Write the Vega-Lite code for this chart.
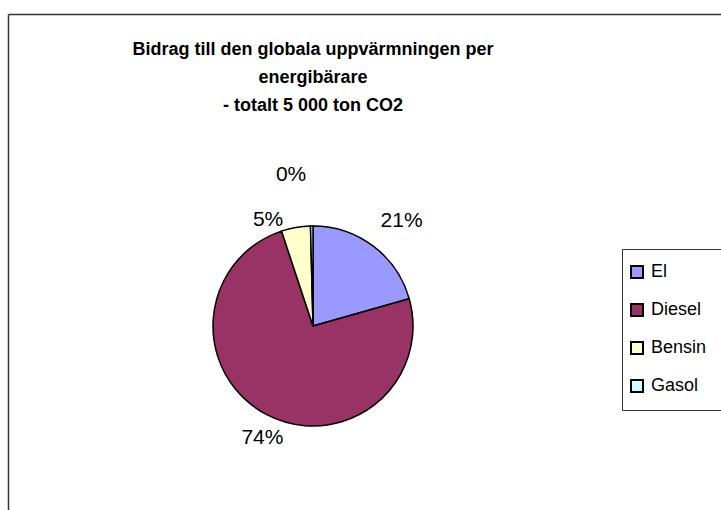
{
  "$schema": "https://vega.github.io/schema/vega-lite/v6.json",
  "width": 610,
  "height": 624,
  "autosize": {"type": "none"},
  "padding": {"left": 8, "top": 14, "right": 110, "bottom": 0},
  "background": "white",
  "config": {
    "view": {"stroke": null},
    "font": "Liberation Sans"
  },
  "title": {
    "text": [
      "Bidrag till den globala uppvärmningen per",
      "energibärare",
      "- totalt 5 000 ton CO2"
    ],
    "font": "Liberation Sans",
    "fontSize": 18,
    "fontWeight": "bold",
    "color": "black",
    "lineHeight": 28,
    "anchor": "middle",
    "frame": "group",
    "offset": -101
  },
  "data": {
    "values": [
      {"Energibärare": "El", "andel": 0.206, "nr": 1},
      {"Energibärare": "Diesel", "andel": 0.743, "nr": 2},
      {"Energibärare": "Bensin", "andel": 0.047, "nr": 3},
      {"Energibärare": "Gasol", "andel": 0.004, "nr": 4}
    ]
  },
  "layer": [
    {
      "mark": {"type": "rule", "opacity": 0},
      "encoding": {
        "x": {
          "datum": 0,
          "type": "quantitative",
          "scale": {"domain": [0, 1], "range": [0, 720]},
          "axis": {"orient": "top", "ticks": false, "labels": false, "grid": false, "title": null, "domainColor": "#333333", "domainWidth": 1.5}
        },
        "y": {
          "datum": 0,
          "type": "quantitative",
          "scale": {"domain": [0, 1]},
          "axis": {"orient": "left", "ticks": false, "labels": false, "grid": false, "title": null, "domainColor": "#333333", "domainWidth": 1.5}
        }
      }
    },
    {
      "mark": {"type": "arc", "outerRadius": 100, "stroke": "black", "strokeWidth": 1.5},
      "encoding": {
        "theta": {"field": "andel", "type": "quantitative", "stack": true},
        "order": {"field": "nr", "type": "quantitative"},
        "color": {
          "field": "Energibärare",
          "type": "nominal",
          "sort": ["El", "Diesel", "Bensin", "Gasol"],
          "scale": {
            "domain": ["El", "Diesel", "Bensin", "Gasol"],
            "range": ["#9999FF", "#993366", "#FFFFCC", "#CCFFFF"]
          },
          "legend": {
            "orient": "none",
            "legendX": 614,
            "legendY": 235,
            "title": null,
            "symbolType": "square",
            "symbolSize": 144,
            "symbolStrokeColor": "black",
            "symbolStrokeWidth": 2,
            "symbolOffset": -8,
            "labelFont": "Liberation Sans",
            "labelFontSize": 18,
            "labelColor": "black",
            "labelOffset": 5,
            "rowPadding": 18,
            "padding": 14,
            "strokeColor": "#333333",
            "fillColor": "white"
          }
        }
      }
    },
    {
      "mark": {"type": "text", "radius": 137, "dx": 6, "dy": 4, "fontSize": 21, "font": "Liberation Sans", "color": "black", "align": "center", "baseline": "middle"},
      "encoding": {
        "theta": {"field": "andel", "type": "quantitative", "stack": true},
        "order": {"field": "nr", "type": "quantitative"},
        "text": {"condition": {"test": "datum.nr === 1", "field": "andel", "format": ".0%"}, "value": ""}
      }
    },
    {
      "mark": {"type": "text", "radius": 123, "dx": 7, "dy": 3, "fontSize": 21, "font": "Liberation Sans", "color": "black", "align": "center", "baseline": "middle"},
      "encoding": {
        "theta": {"field": "andel", "type": "quantitative", "stack": true},
        "order": {"field": "nr", "type": "quantitative"},
        "text": {"condition": {"test": "datum.nr === 2", "field": "andel", "format": ".0%"}, "value": ""}
      }
    },
    {
      "mark": {"type": "text", "radius": 110, "dx": -26, "dy": 2, "fontSize": 21, "font": "Liberation Sans", "color": "black", "align": "center", "baseline": "middle"},
      "encoding": {
        "theta": {"field": "andel", "type": "quantitative", "stack": true},
        "order": {"field": "nr", "type": "quantitative"},
        "text": {"condition": {"test": "datum.nr === 3", "field": "andel", "format": ".0%"}, "value": ""}
      }
    },
    {
      "mark": {"type": "text", "radius": 151, "dx": -20, "dy": 0, "fontSize": 21, "font": "Liberation Sans", "color": "black", "align": "center", "baseline": "middle"},
      "encoding": {
        "theta": {"field": "andel", "type": "quantitative", "stack": true},
        "order": {"field": "nr", "type": "quantitative"},
        "text": {"condition": {"test": "datum.nr === 4", "field": "andel", "format": ".0%"}, "value": ""}
      }
    }
  ]
}
